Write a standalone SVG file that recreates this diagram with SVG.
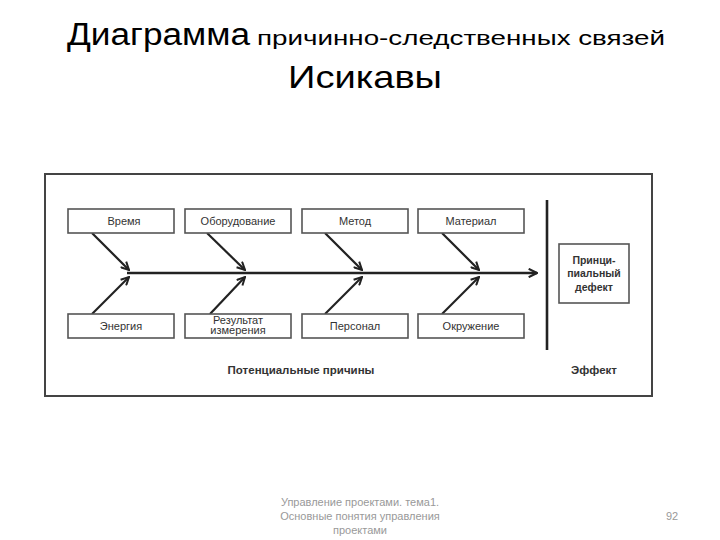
<svg xmlns="http://www.w3.org/2000/svg" width="720" height="540" viewBox="0 0 720 540">
<style>
.t{font-family:"Liberation Sans",Arial,sans-serif;fill:#000}
.box{fill:#fff;stroke:#555;stroke-width:1.6}
.bt{font-family:"Liberation Sans",Arial,sans-serif;font-size:11px;fill:#333;text-anchor:middle}
.lbl{font-family:"Liberation Sans",Arial,sans-serif;font-size:11.5px;font-weight:bold;fill:#333;text-anchor:middle}
.ef{font-family:"Liberation Sans",Arial,sans-serif;font-size:10.5px;font-weight:bold;fill:#333;text-anchor:middle}
.ft{font-family:"Liberation Sans",Arial,sans-serif;font-size:11px;fill:#999;text-anchor:middle}
.arr{stroke:#222;stroke-width:2.2;fill:none;marker-end:url(#ah)}
</style>
<defs>
<marker id="ah" viewBox="0 0 10 10" refX="9" refY="5" markerWidth="4.5" markerHeight="4.5" orient="auto" markerUnits="strokeWidth">
<path d="M1,1 L9,5 L1,9" fill="none" stroke="#222" stroke-width="2"/>
</marker>
<marker id="ah2" viewBox="0 0 10 10" refX="9" refY="5" markerWidth="4" markerHeight="4" orient="auto" markerUnits="strokeWidth">
<path d="M1,1 L9,5 L1,9" fill="none" stroke="#222" stroke-width="2"/>
</marker>
</defs>
<rect width="720" height="540" fill="#fff"/>
<g id="title">
<text class="t" x="67" y="45" font-size="31" textLength="183" lengthAdjust="spacingAndGlyphs">Диаграмма</text>
<text class="t" x="257" y="45" font-size="21" textLength="408" lengthAdjust="spacingAndGlyphs">причинно-следственных связей</text>
<text class="t" x="288" y="88" font-size="32" textLength="154" lengthAdjust="spacingAndGlyphs">Исикавы</text>
</g>
<g id="frame">
<rect x="45" y="174" width="607" height="222" fill="#fff" stroke="#444" stroke-width="2"/>
</g>
<g id="connectors">
<line x1="127" y1="273" x2="537" y2="273" stroke="#222" stroke-width="2.6" marker-end="url(#ah2)"/>
<line x1="547" y1="200" x2="547" y2="350" stroke="#222" stroke-width="2.6"/>
<line class="arr" x1="92" y1="233" x2="129" y2="270"/>
<line class="arr" x1="207" y1="233" x2="245" y2="270"/>
<line class="arr" x1="325" y1="233" x2="362" y2="270"/>
<line class="arr" x1="442" y1="233" x2="479" y2="270"/>
<line class="arr" x1="92" y1="314" x2="129" y2="277"/>
<line class="arr" x1="210" y1="314" x2="245" y2="277"/>
<line class="arr" x1="325" y1="314" x2="362" y2="277"/>
<line class="arr" x1="442" y1="314" x2="479" y2="277"/>
</g>
<g id="n-vremya"><rect class="box" x="68" y="209" width="106" height="24"/><text class="bt" x="124" y="225">Время</text></g>
<g id="n-oborud"><rect class="box" x="185" y="209" width="106" height="24"/><text class="bt" x="238" y="225">Оборудование</text></g>
<g id="n-metod"><rect class="box" x="302" y="209" width="106" height="24"/><text class="bt" x="355" y="225">Метод</text></g>
<g id="n-material"><rect class="box" x="418" y="209" width="106" height="24"/><text class="bt" x="471" y="225">Материал</text></g>
<g id="n-energiya"><rect class="box" x="68" y="314" width="106" height="24"/><text class="bt" x="121" y="330">Энергия</text></g>
<g id="n-rezultat"><rect class="box" x="185" y="314" width="106" height="24"/><text class="bt" x="238" y="323.5" font-size="8.5">Результат</text><text class="bt" x="238" y="334" font-size="8.5">измерения</text></g>
<g id="n-personal"><rect class="box" x="302" y="314" width="106" height="24"/><text class="bt" x="355" y="330">Персонал</text></g>
<g id="n-okruzh"><rect class="box" x="418" y="314" width="106" height="24"/><text class="bt" x="471" y="330">Окружение</text></g>
<g id="n-defekt"><rect class="box" x="559" y="244" width="70" height="59"/>
<text class="ef" x="594" y="264">Принци-</text><text class="ef" x="594" y="277">пиальный</text><text class="ef" x="594" y="291">дефект</text></g>
<g id="labels">
<text class="lbl" x="301" y="374">Потенциальные причины</text>
<text class="lbl" x="594" y="374">Эффект</text>
</g>
<g id="footer">
<text class="ft" x="360" y="506">Управление проектами. тема1.</text>
<text class="ft" x="360" y="520">Основные понятия управления</text>
<text class="ft" x="360" y="534">проектами</text>
<text class="ft" x="672" y="520">92</text>
</g>
</svg>
